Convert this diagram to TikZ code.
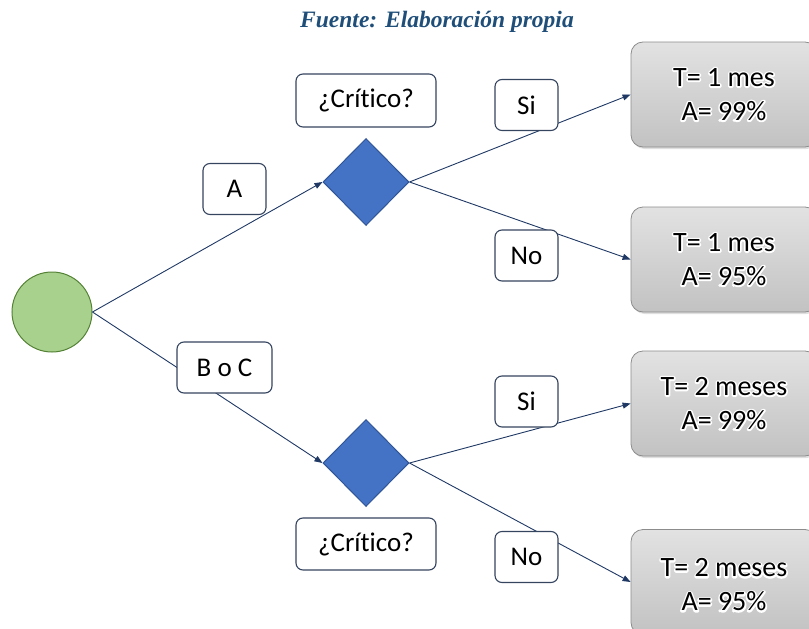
\documentclass[tikz,border=0pt]{standalone}
\usepackage{fontspec}
\setmainfont[Ligatures=NoCommon]{Carlito}
\newfontfamily\titlefont{Liberation Serif}
\usetikzlibrary{shapes.geometric,arrows.meta,shadows}

\definecolor{navy}{HTML}{1F3864}
\definecolor{titleblue}{HTML}{1F4E79}
\definecolor{lblborder}{HTML}{35445F}
\definecolor{startfill}{HTML}{A9D18E}
\definecolor{startborder}{HTML}{548235}
\definecolor{decfill}{HTML}{4472C4}
\definecolor{decborder}{HTML}{2F5597}
\definecolor{outtop}{HTML}{E2E2E2}
\definecolor{outbot}{HTML}{C2C2C2}
\definecolor{outborder}{HTML}{8C8C8C}

\tikzset{
  lbl/.style={draw=lblborder, line width=1.1pt, rounded corners=7pt, fill=white,
    minimum width=63pt, minimum height=51pt, inner sep=0pt,
    font=\fontsize{27}{32}\selectfont},
  startnode/.style={circle, draw=startborder, line width=1pt, fill=startfill,
    minimum size=80pt, inner sep=0pt},
  decision/.style={diamond, draw=decborder, line width=1pt, fill=decfill,
    minimum width=86pt, minimum height=87pt, inner sep=0pt},
  outcome/.style={draw=outborder, line width=0.8pt, rounded corners=12pt,
    top color=outtop, bottom color=outbot,
    minimum width=186pt, minimum height=105pt, inner sep=0pt,
    drop shadow={shadow xshift=1.5pt, shadow yshift=-2pt, opacity=0.25}},
  outtext/.style={align=center, inner sep=0pt, font=\fontsize{28}{34}\selectfont},
  conn/.style={draw=navy, line width=0.9pt, -{Triangle[length=8pt,width=6pt]}},
}

% one line of text with a white outline behind the glyphs
\newcommand\haloline[1]{%
  \rlap{\special{pdf:literal direct q 1 Tr 3.2 w 1 J 1 j 1 1 1 RG}#1\special{pdf:literal direct 0 Tr Q}}#1}

\begin{document}
\begin{tikzpicture}[x=1pt,y=-1pt]
\useasboundingbox (0,0) rectangle (809,629);
\clip (0,0) rectangle (809,629);

\node[font=\titlefont\bfseries\itshape\fontsize{23.5}{28}\selectfont, text=titleblue]
  (title) at (437,22) {Fuente: Elaboración propia};

% start and decision nodes
\node[startnode] (start) at (52,312) {};
\node[decision] (d1) at (366,182) {};
\node[decision] (d2) at (366,463) {};

% outcome boxes
\node[outcome] (o1) at (724,94.5) {};
\node[outcome] (o2) at (724,259.5) {};
\node[outcome] (o3) at (724,403.5) {};
\node[outcome] (o4) at (724,582) {};
\node[outtext] (t1) at (o1) {\haloline{T= 1 mes}\\\haloline{A= 99\%}};
\node[outtext] (t2) at (o2) {\haloline{T= 1 mes}\\\haloline{A= 95\%}};
\node[outtext] (t3) at (o3) {\haloline{T= 2 meses}\\\haloline{A= 99\%}};
\node[outtext] (t4) at (724,585) {\haloline{T= 2 meses}\\\haloline{A= 95\%}};

% connectors
\draw[conn] (start.east) -- (d1.west);
\draw[conn] (start.east) -- (d2.west);
\draw[conn] (d1.east) -- (o1.west);
\draw[conn] (d1.east) -- (o2.west);
\draw[conn] (d2.east) -- (o3.west);
\draw[conn] (d2.east) -- (o4.west);

% branch labels
\node[lbl] (la) at (234.5,189) {A};
\node[lbl, minimum width=95pt] (lbc) at (224.5,367.5) {B o C};
\node[lbl, minimum width=140pt, minimum height=53pt] (c1) at (366,100.5) {¿Crítico?};
\node[lbl, minimum width=140pt, minimum height=52pt] (c2) at (366,544) {¿Crítico?};
\node[lbl] (s1) at (526.5,105) {Si};
\node[lbl] (n1) at (526.5,255.5) {No};
\node[lbl] (s2) at (526.5,401.5) {Si};
\node[lbl] (n2) at (526.5,557) {No};
\end{tikzpicture}
\end{document}
